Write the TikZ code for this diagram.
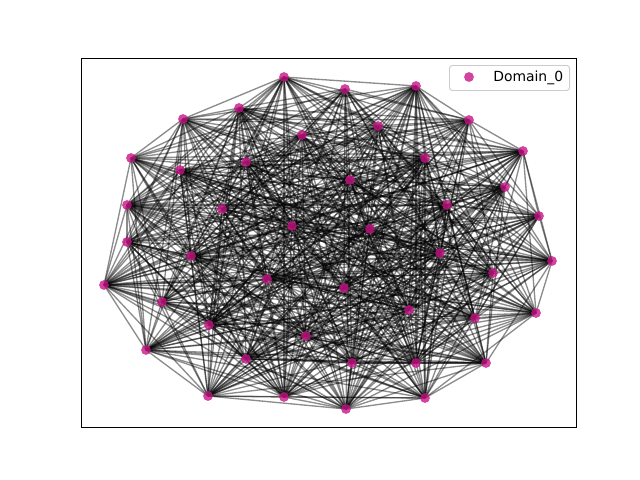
\documentclass[tikz,border=0pt]{standalone}
\usepackage{fontspec}
\setmainfont{DejaVu Sans}
\usetikzlibrary{backgrounds}
\definecolor{nodecol}{RGB}{199,21,133}
\definecolor{legedge}{RGB}{204,204,204}
\begin{document}
\begin{tikzpicture}[x=0.025cm,y=-0.025cm,
  vert/.style={circle,fill=nodecol,fill opacity=0.8,draw=none,minimum size=9.8*0.7113pt,inner sep=0pt},
  edge/.style={draw=black,draw opacity=0.45,line width=0.95pt},
  frame/.style={draw=black,line width=0.8pt},
  legbox/.style={draw=legedge,fill=white,fill opacity=0.8,draw opacity=1,rounded corners=2pt,line width=0.7pt}]
\useasboundingbox (0,0) rectangle (640,480);
\foreach \n/\x/\y in {1/284/77,2/345/89,3/416/86,4/239/108,5/183/119,6/469/120,7/302/135,8/378/126,
 9/131/158,10/246/162,11/425/158,12/523/151,13/180/170,14/350/180,15/505/187,16/127/205,
 17/222/209,18/447/205,19/539/216,20/292/226,21/370/229,22/127/242,23/191/256,24/440/253,
 25/552/261,26/493/273,27/267/279,28/104/285,29/344/288,30/162/302,31/409/310,32/475/318,
 33/536/313,34/209/325,35/306/336,36/146/350,37/246/359,38/352/363,39/416/363,40/486/363,
 41/208/396,42/284/397,43/346/409,44/425/398}
  {\node[vert] (v\n) at (\x,\y) {};}
\begin{scope}[on background layer]
\pgfmathsetseed{7}
\foreach \i in {1,...,43}{
  \pgfmathtruncatemacro\js{\i+1}
  \foreach \j in {\js,...,44}{
    \pgfmathtruncatemacro\ok{rnd<0.7 ? 1 : 0}
    \ifnum\ok=1 \draw[edge] (v\i.center) -- (v\j.center);\fi
  }
}
\end{scope}
\node[frame,draw,rectangle,inner sep=0pt,minimum width=495*0.7113pt,minimum height=369*0.7113pt,anchor=north west] (ax) at (81,58) {};
\node[legbox,rectangle,inner sep=0pt,minimum width=120*0.7113pt,minimum height=25*0.7113pt,anchor=north west] (leg) at (449,65) {};
\node[vert] (legm) at (469,77) {};
\node[anchor=west,inner sep=0pt,font=\fontsize{9.9}{12}\selectfont] (legt) at (493,77.5) {Domain\_0};
\end{tikzpicture}
\end{document}
